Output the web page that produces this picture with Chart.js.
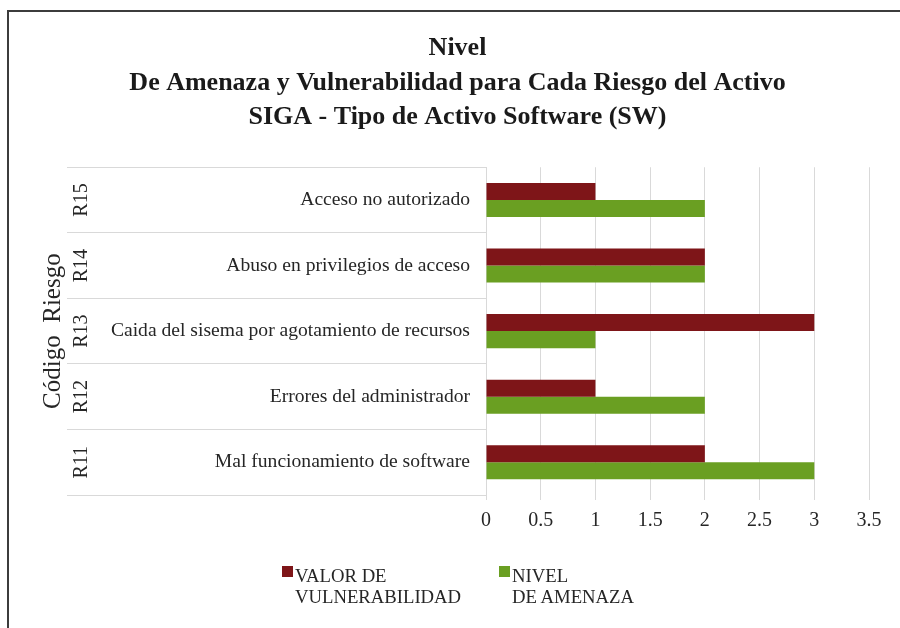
<!DOCTYPE html>
<html><head><meta charset="utf-8">
<script src="https://cdn.jsdelivr.net/npm/chart.js@4.4.1/dist/chart.umd.min.js"></script>
<style>
html,body{margin:0;padding:0;background:#fff;overflow:hidden;width:900px;height:628px;}
#frame{position:absolute;left:7px;top:10px;width:900px;height:640px;border:2px solid #3c3c3c;}
#wrap{position:absolute;left:0;top:0;width:894px;height:616px;}
.lg-box{position:absolute;width:11px;height:11px;}
.lg-txt{position:absolute;font-family:'Liberation Serif','Times New Roman',serif;font-size:18.7px;line-height:21px;color:#262626;white-space:nowrap;}
</style></head><body>
<div id="frame"><div id="wrap"><canvas id="c"></canvas></div></div>
<div id="legend"></div>
<script>
const riskCodes = ['R15', 'R14', 'R13', 'R12', 'R11'];
const riskNames = ['Acceso no autorizado', 'Abuso en privilegios de acceso', 'Caida del sisema por agotamiento de recursos', 'Errores del administrador', 'Mal funcionamiento de software'];
const vulnerabilidad = [1, 2, 3, 1, 2];
const amenaza = [2, 2, 1, 2, 3];
const xTickLabels = ['0', '0.5', '1', '1.5', '2', '2.5', '3', '3.5'];
const seriesNames = ['VALOR DE VULNERABILIDAD', 'NIVEL DE AMENAZA'];
const legendLines = [['VALOR DE', 'VULNERABILIDAD'], ['NIVEL', 'DE AMENAZA']];
const titleLines = ['Nivel', 'De Amenaza y Vulnerabilidad para Cada Riesgo del Activo', 'SIGA - Tipo de Activo Software (SW)'];
const axisTitle = 'Código  Riesgo';

const SERIF = "'Liberation Serif', 'Times New Roman', serif";
const TXT = '#262626';
const GRID = '#d9d9d9';

// HTML legend built from the chart's datasets
const legendPos = [{ box: [282, 566], text: [295, 565] }, { box: [499, 566], text: [512, 565] }];
const htmlLegend = {
  id: 'htmlLegend',
  afterInit(chart) {
    const host = document.getElementById('legend');
    host.innerHTML = '';
    chart.data.datasets.forEach((ds, i) => {
      const b = document.createElement('div');
      b.className = 'lg-box';
      b.style.left = legendPos[i].box[0] + 'px';
      b.style.top = legendPos[i].box[1] + 'px';
      b.style.background = ds.backgroundColor;
      const t = document.createElement('div');
      t.className = 'lg-txt';
      t.style.left = legendPos[i].text[0] + 'px';
      t.style.top = legendPos[i].text[1] + 'px';
      t.innerHTML = legendLines[i].join('<br>');
      host.appendChild(b);
      host.appendChild(t);
    });
  }
};

new Chart(document.getElementById('c'), {
  type: 'bar',
  data: {
    labels: riskNames,
    datasets: [
      { label: seriesNames[0], data: vulnerabilidad, backgroundColor: '#7e1518', categoryPercentage: 0.52, barPercentage: 1 },
      { label: seriesNames[1], data: amenaza, backgroundColor: '#6a9f22', categoryPercentage: 0.52, barPercentage: 1 }
    ]
  },
  options: {
    indexAxis: 'y',
    responsive: true,
    maintainAspectRatio: false,
    animation: false,
    devicePixelRatio: 1,
    layout: { padding: { left: 28, right: 25, top: 0, bottom: 93 } },
    scales: {
      x: {
        type: 'linear', position: 'bottom', min: 0, max: 3.5,
        grid: { color: GRID, tickLength: 5, drawOnChartArea: true },
        border: { display: false },
        ticks: {
          stepSize: 0.5, padding: 9, color: TXT,
          font: { family: SERIF, size: 20 },
          callback: (v, i) => xTickLabels[i] !== undefined ? xTickLabels[i] : String(v)
        },
        afterFit: (s) => { s.height = 40; }
      },
      y: {
        type: 'category', position: 'left', weight: 0, offset: true,
        grid: { offset: true, drawOnChartArea: false, drawTicks: true, tickLength: 385, color: GRID },
        border: { display: true, color: GRID },
        ticks: { color: TXT, font: { family: SERIF, size: 19.6 }, padding: -369, crossAlign: 'near' },
        afterFit: (s) => { s.width = 385; }
      },
      yc: {
        type: 'category', position: 'left', weight: 1, offset: true, labels: riskCodes,
        grid: { offset: true, drawOnChartArea: false, drawTicks: true, tickLength: 34, color: GRID },
        border: { display: false },
        ticks: { color: TXT, font: { family: SERIF, size: 20 }, minRotation: 90, maxRotation: 90, crossAlign: 'center', padding: -31 },
        title: { display: true, text: axisTitle, color: TXT, font: { family: SERIF, size: 25 }, padding: { top: 1, bottom: 0 } },
        afterFit: (s) => { s.width = 64; }
      },
      yr: {
        type: 'category', position: 'right', offset: true, labels: riskCodes,
        grid: { display: false }, border: { display: false }, ticks: { display: false },
        afterFit: (s) => { s.width = 9; }
      }
    },
    plugins: {
      title: {
        display: true, text: titleLines, color: '#1a1a1a',
        font: { family: SERIF, size: 26, weight: 'bold', lineHeight: 1.33 },
        padding: { top: 19, bottom: 32.5 }
      },
      legend: { display: false },
      tooltip: { enabled: false }
    }
  },
  plugins: [htmlLegend]
});
</script>
</body></html>
